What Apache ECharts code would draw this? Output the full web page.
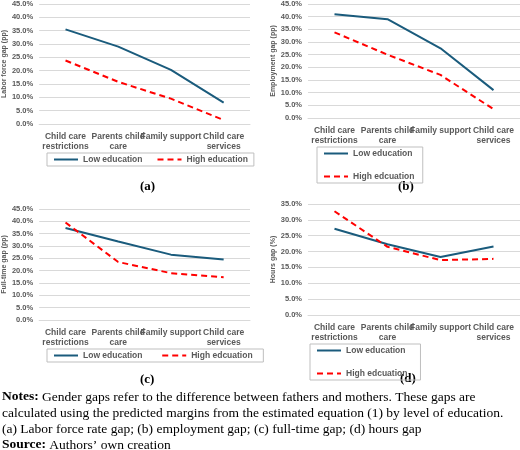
<!DOCTYPE html>
<html>
<head>
<meta charset="utf-8">
<script src="https://cdn.jsdelivr.net/npm/echarts@6/dist/echarts.min.js"></script>
<style>html,body{margin:0;padding:0;background:#fff}#main{width:520px;height:450px}</style>
</head>
<body>
<div id="main"></div>
<script>
var categories = ['Child care\nrestrictions', 'Parents child\ncare', 'Family support', 'Child care\nservices'];
var lowA = [35.5, 29.0, 20.3, 8.0];
var highA = [23.8, 15.8, 9.5, 1.5];
var lowB = [41.0, 39.0, 27.5, 11.0];
var highB = [33.8, 25.0, 17.0, 3.5];
var lowC = [37.3, 31.8, 26.5, 24.5];
var highC = [39.5, 23.5, 19.0, 17.3];
var lowD = [27.2, 22.3, 18.3, 21.6];
var highD = [32.7, 21.5, 17.3, 17.7];
var axisNames = ['Labor force gap (pp)', 'Employment gap (pp)', 'Full-time gap (pp)', 'Hours gap (%)'];
var highNames = ['High education', 'High edcuation', 'High edcuation', 'High edcuation'];
var yMax = [45, 45, 45, 35];
var panelLabels = ['(a)', '(b)', '(c)', '(d)'];

var chart = echarts.init(document.getElementById('main'));
var grids = [
    {left: 38, right: 270, top: 3, height: 121},
    {left: 308, right: 0, top: 4, height: 114},
    {left: 38, right: 270, top: 209, height: 111},
    {left: 308, right: 0, top: 204, height: 111}
];
var legendPos = [[47, 153], [317, 147], [47, 349], [310, 344]];
var labelPos = [[140, 180], [398, 180], [140, 373], [400, 372]];
var lows = [lowA, lowB, lowC, lowD];
var highs = [highA, highB, highC, highD];

var xAxis = [], yAxis = [], series = [], legend = [], graphic = [];
for (var i = 0; i < 4; i++) {
    xAxis.push({
        type: 'category', gridIndex: i, data: categories,
        axisLine: {lineStyle: {color: '#d9d9d9'}}, axisTick: {show: false},
        axisLabel: {color: '#595959', fontSize: 8.5, fontWeight: 'bold', interval: 0, lineHeight: 10, margin: 8}
    });
    yAxis.push({
        type: 'value', gridIndex: i, min: 0, max: yMax[i], interval: 5,
        name: axisNames[i], nameLocation: 'middle', nameGap: 30,
        nameTextStyle: {color: '#595959', fontSize: 7, fontWeight: 'bold'},
        axisLabel: {color: '#595959', fontSize: 7.5, fontWeight: 'bold', margin: 6,
            formatter: function(v) { return v.toFixed(1) + '%'; }},
        splitLine: {lineStyle: {color: '#d9d9d9'}}
    });
    var lowName = 'Low education' + ' '.repeat(i);
    var highName = highNames[i] + ' '.repeat(i);
    series.push({
        name: lowName, type: 'line', xAxisIndex: i, yAxisIndex: i, data: lows[i],
        symbol: 'none', lineStyle: {color: '#1a5b7c', width: 2}, itemStyle: {color: '#1a5b7c'}
    });
    series.push({
        name: highName, type: 'line', xAxisIndex: i, yAxisIndex: i, data: highs[i],
        symbol: 'none', lineStyle: {color: '#ff0000', width: 2, type: [6, 4]}, itemStyle: {color: '#ff0000'}
    });
    legend.push({
        data: [lowName, highName], left: legendPos[i][0], top: legendPos[i][1],
        borderColor: '#bfbfbf', borderWidth: 1, padding: [2, 6], itemGap: 14,
        itemWidth: 24, itemHeight: 8, itemStyle: {opacity: 0},
        textStyle: {color: '#595959', fontSize: 8.5, fontWeight: 'bold'}
    });
    graphic.push({
        type: 'text', left: labelPos[i][0], top: labelPos[i][1],
        style: {text: panelLabels[i], font: 'bold 13px "Liberation Serif"', fill: '#000'}
    });
}

var notes = [
    '{b|Notes:} Gender gaps refer to the difference between fathers and mothers. These gaps are',
    'calculated using the predicted margins from the estimated equation (1) by level of education.',
    '(a) Labor force rate gap; (b) employment gap; (c) full-time gap; (d) hours gap',
    '{b|Source:} Authors\u2019 own creation'
];
graphic.push({
    type: 'text', left: 2, top: 389,
    style: {
        text: notes.join('\n'), font: '13.5px "Liberation Serif"', fill: '#000', lineHeight: 16,
        rich: {b: {font: 'bold 13.5px "Liberation Serif"', fill: '#000'}}
    }
});

chart.setOption({
    animation: false,
    grid: grids,
    xAxis: xAxis,
    yAxis: yAxis,
    legend: legend,
    series: series,
    graphic: graphic
});
</script>
</body>
</html>
